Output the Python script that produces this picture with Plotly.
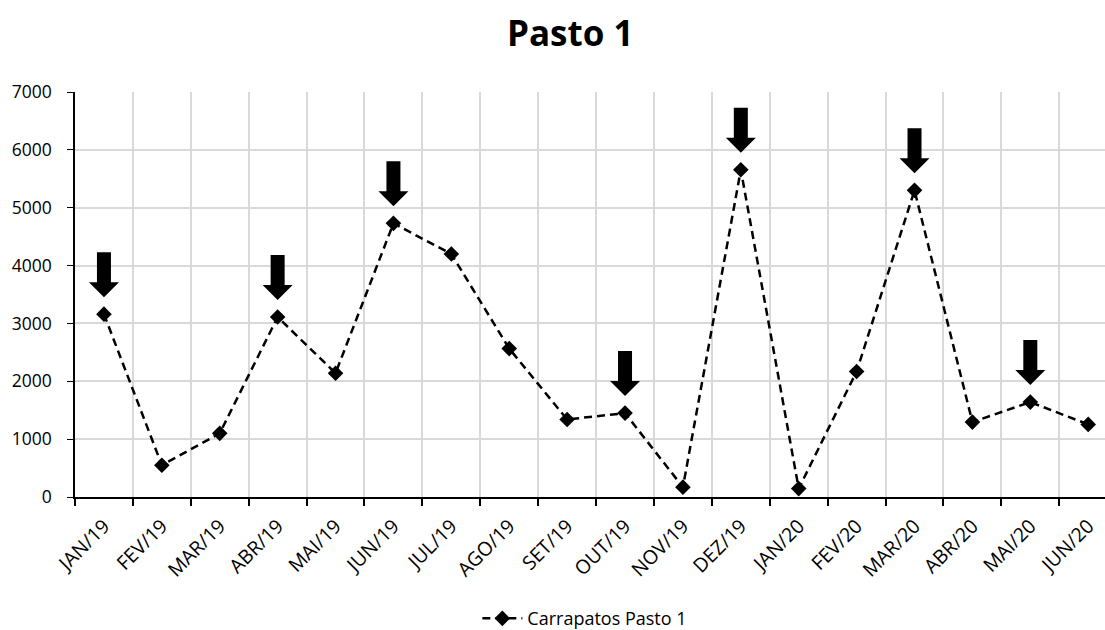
import plotly.graph_objects as go

months = ["JAN/19", "FEV/19", "MAR/19", "ABR/19", "MAI/19", "JUN/19", "JUL/19", "AGO/19",
          "SET/19", "OUT/19", "NOV/19", "DEZ/19", "JAN/20", "FEV/20", "MAR/20", "ABR/20",
          "MAI/20", "JUN/20"]
ticks = [3160, 550, 1100, 3110, 2140, 4730, 4200, 2565, 1340, 1450, 170, 5655, 145, 2170,
         5300, 1295, 1640, 1255]
arrow_months = ["JAN/19", "ABR/19", "JUN/19", "OUT/19", "DEZ/19", "MAR/20", "MAI/20"]
yticks = [0, 1000, 2000, 3000, 4000, 5000, 6000, 7000]

FONT = "Open Sans"

fig = go.Figure()
fig.add_trace(go.Scatter(
    x=months, y=ticks, mode="lines+markers", name="Carrapatos Pasto 1",
    line=dict(color="black", width=2.5, dash="8px,5px"),
    marker=dict(symbol="diamond", size=12, color="black"),
))

arrow_path = "M -7,62 L 7,62 L 7,32 L 15,32 L 0,17 L -15,32 L -7,32 Z"
for m in arrow_months:
    i = months.index(m)
    fig.add_shape(type="path", xref="x", yref="y", xsizemode="pixel", ysizemode="pixel",
                  xanchor=i, yanchor=ticks[i], path=arrow_path,
                  fillcolor="black", line=dict(width=0), layer="above")

fig.update_layout(
    width=1105, height=630,
    margin=dict(l=75, r=0, t=92, b=133, autoexpand=False),
    plot_bgcolor="white", paper_bgcolor="white",
    font=dict(family=FONT, color="black", size=18),
    title=dict(text="<b>Pasto 1</b>", x=0.516, xanchor="center", y=0.947, yanchor="middle",
               font=dict(family=FONT, size=35, color="black")),
    showlegend=True,
    legend=dict(orientation="h", x=0.495, xanchor="center", yref="container",
                y=0.018, yanchor="middle",
                font=dict(family=FONT, size=18), itemwidth=40),
)
fig.update_xaxes(type="category", categoryorder="array", categoryarray=months,
                 range=[-0.5, 17.29], tickson="boundaries", ticks="outside", ticklen=7,
                 tickcolor="black", tickwidth=1.5, tickangle=-45, ticklabelstandoff=8,
                 showline=True, linecolor="black", linewidth=2, automargin=False,
                 showgrid=True, gridcolor="#d9d9d9", gridwidth=1.5,
                 tickfont=dict(family=FONT, size=19.5))
fig.update_yaxes(range=[0, 7000], tickvals=yticks, ticks="outside", ticklen=6,
                 tickcolor="black", showline=True, linecolor="black", linewidth=1.5,
                 ticklabelstandoff=12, automargin=False,
                 showgrid=True, gridcolor="#d9d9d9", gridwidth=1.5, zeroline=False,
                 tickfont=dict(family=FONT, size=17.5))

fig.write_html("out.html", config={"displayModeBar": False},
               post_script="document.body.style.margin='0';")
